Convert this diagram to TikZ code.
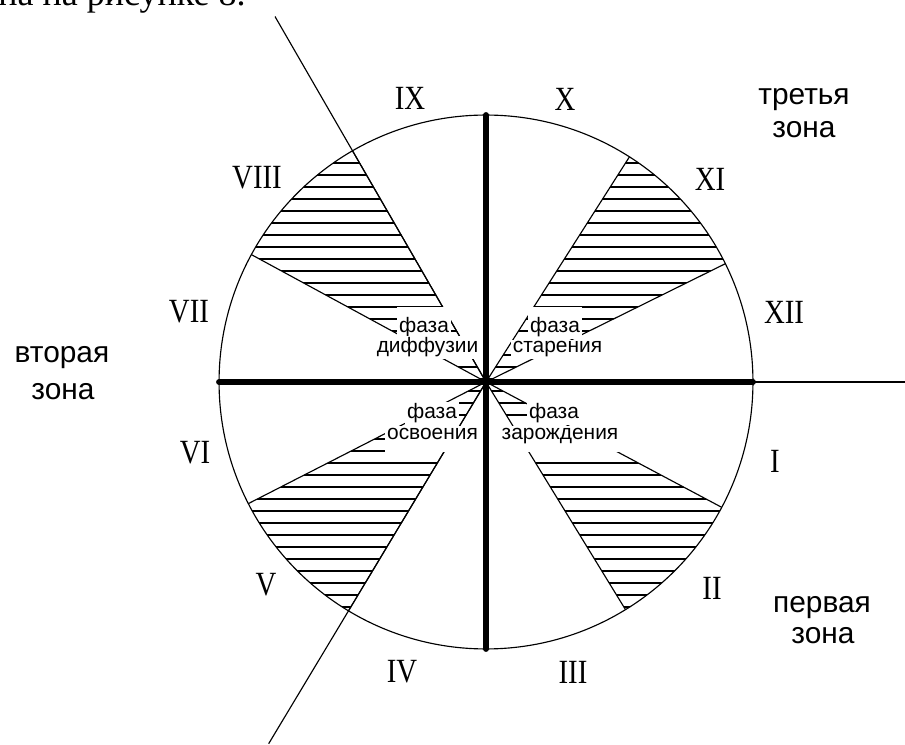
\documentclass[tikz,border=0pt]{standalone}
\usepackage{fontspec}
\setmainfont{Liberation Sans}
\newfontfamily\romfont[FakeStretch=0.85]{Liberation Serif}
\newfontfamily\bodyfont{Liberation Serif}
\usetikzlibrary{calc}

\begin{document}
\begin{tikzpicture}[x=0.02cm, y=0.02cm,
      edgeln/.style={line width=0.65pt},
      hatchln/.style={line width=1.1pt},
      axisln/.style={line width=3.4pt, line cap=round},
      rom/.style={font=\romfont\fontsize{19.3}{22}\selectfont, inner sep=0pt},
      zone/.style={font=\fontsize{17}{19}\selectfont, inner sep=0pt, anchor=base},
      phase/.style={font=\fontsize{11.9}{13}\selectfont, fill=white, inner sep=1pt, anchor=base},
      phaseup/.style={phase, text height=14pt},
      phasedown/.style={phase, text depth=6.5pt}
    ]
    \useasboundingbox (0,0) rectangle (905,744);
    \coordinate (O) at (486,362);
    % text line of the page above the figure
    \begin{scope}
      \clip (0,0) rectangle (905,744);
      \node[font=\bodyfont\fontsize{20.5}{24}\selectfont, inner sep=0pt, anchor=base west]
        (cap) at (-2,738) {на на рисунке 8.};
    \end{scope}
    % hatched phases
    \foreach \a/\b in {120/151.5, 26.3/57.5, 207.1/239, -58.5/-28} {
      \begin{scope}
        \clip (O) -- ++(\a:267) arc[start angle=\a, end angle=\b, radius=267] -- cycle;
        \foreach \k in {-24,...,24}
          \draw[hatchln] ($(O)+(-280,\k*12+3)$) -- ++(560,0);
      \end{scope}
      \draw[edgeln] (O) -- ++(\a:267);
      \draw[edgeln] (O) -- ++(\b:267);
    }
    \coordinate (rayT) at ($(O)+(120:422)$);
    \coordinate (rayB) at ($(O)+(239:422)$);
    \coordinate (rEnd) at (905,362);
    \draw[edgeln] (O) -- (rayT);
    \draw[edgeln] (O) -- (rayB);
    % phase labels
    \node[phaseup] (d1) at (424,411) {фаза};
    \node[phase] (d2) at (427.5,391) {диффузии};
    \node[phaseup] (s1) at (555,411) {фаза};
    \node[phase] (s2) at (557.5,391) {старения};
    \node[phase] (o1) at (432,325) {фаза};
    \node[phasedown] (o2) at (432.5,305) {освоения};
    \node[phase] (z1) at (554,325) {фаза};
    \node[phasedown] (z2) at (560,305) {зарождения};
    % dial and axes
    \node[circle, draw, edgeln, minimum size=10.68cm, inner sep=0pt, outer sep=0pt] (dial) at (O) {};
    \draw[axisln] (dial.north) -- (dial.south);
    \draw[axisln] (dial.west) -- (dial.east);
    \draw[edgeln] (dial.east) -- (rEnd);
    % months
    \node[rom] (m9) at (410,646) {IX};
    \node[rom] (m10) at (565,645) {X};
    \node[rom] (m11) at (710,565) {XI};
    \node[rom] (m12) at (784,432) {XII};
    \node[rom] (m1) at (775,283) {I};
    \node[rom] (m2) at (712,156) {II};
    \node[rom] (m3) at (573,72) {III};
    \node[rom] (m4) at (402,72) {IV};
    \node[rom] (m5) at (266,159) {V};
    \node[rom] (m6) at (195,291) {VI};
    \node[rom] (m7) at (189,432) {VII};
    \node[rom] (m8) at (257,566) {VIII};
    % zones
    \node[zone] (t1) at (804,639) {третья};
    \node[zone] (t2) at (804,606) {зона};
    \node[zone] (v1) at (62,381) {вторая};
    \node[zone] (v2) at (63,344) {зона};
    \node[zone] (p1) at (822,132) {первая};
    \node[zone] (p2) at (823,101) {зона};
  \end{tikzpicture}
\end{document}
